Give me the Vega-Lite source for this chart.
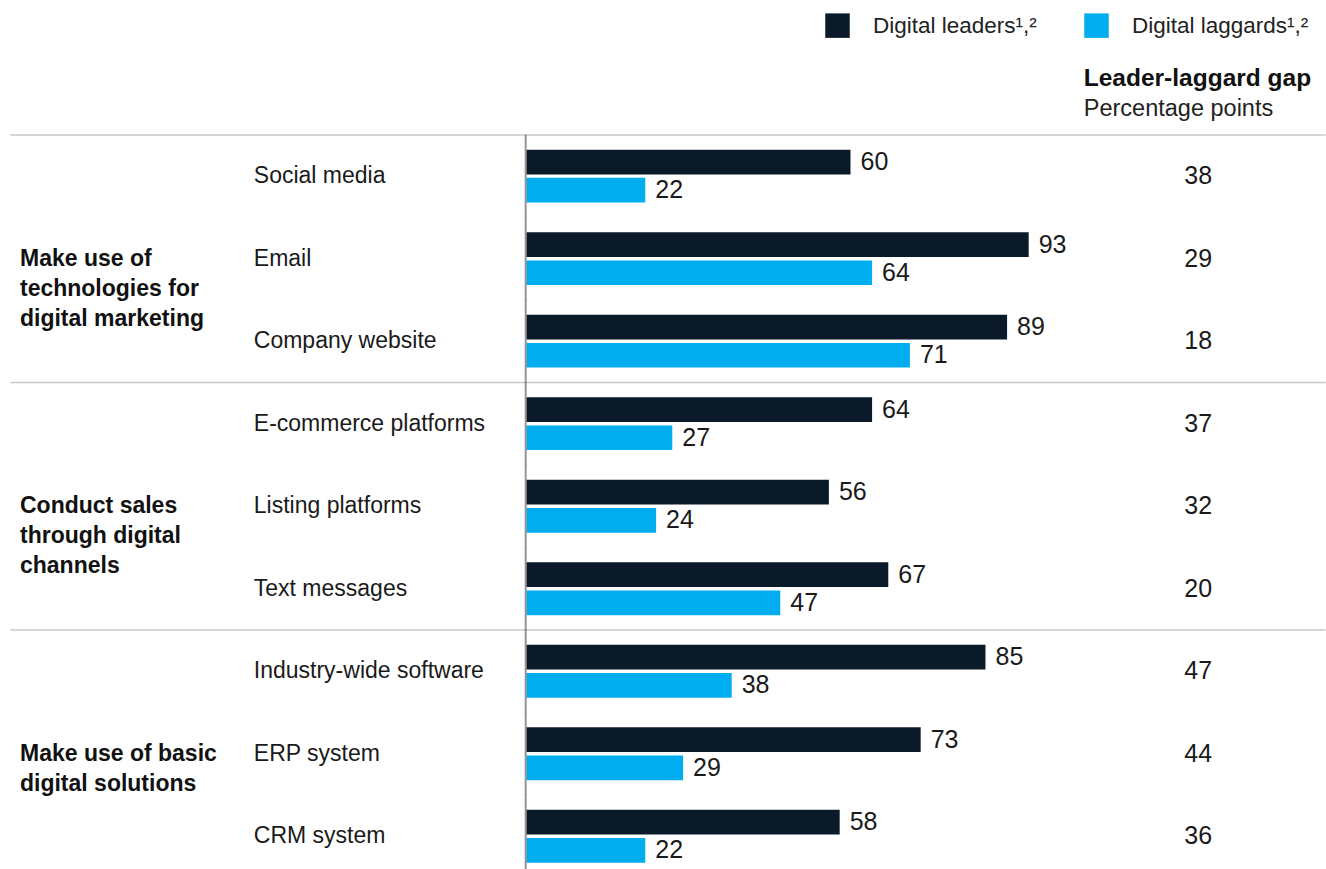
{
  "$schema": "https://vega.github.io/schema/vega-lite/v6.json",
  "width": 1326,
  "height": 734,
  "autosize": {"type": "none"},
  "padding": {"top": 135, "left": 0, "right": 0, "bottom": 0},
  "background": "white",
  "config": {
    "view": {"stroke": null},
    "font": "Liberation Sans",
    "text": {"font": "Liberation Sans", "fontSize": 23, "color": "#1a1a1a"}
  },
  "datasets": {
    "bars": [
      {"item": "Social media", "series": "Digital leaders", "value": 60},
      {"item": "Social media", "series": "Digital laggards", "value": 22},
      {"item": "Email", "series": "Digital leaders", "value": 93},
      {"item": "Email", "series": "Digital laggards", "value": 64},
      {"item": "Company website", "series": "Digital leaders", "value": 89},
      {"item": "Company website", "series": "Digital laggards", "value": 71},
      {"item": "E-commerce platforms", "series": "Digital leaders", "value": 64},
      {"item": "E-commerce platforms", "series": "Digital laggards", "value": 27},
      {"item": "Listing platforms", "series": "Digital leaders", "value": 56},
      {"item": "Listing platforms", "series": "Digital laggards", "value": 24},
      {"item": "Text messages", "series": "Digital leaders", "value": 67},
      {"item": "Text messages", "series": "Digital laggards", "value": 47},
      {"item": "Industry-wide software", "series": "Digital leaders", "value": 85},
      {"item": "Industry-wide software", "series": "Digital laggards", "value": 38},
      {"item": "ERP system", "series": "Digital leaders", "value": 73},
      {"item": "ERP system", "series": "Digital laggards", "value": 29},
      {"item": "CRM system", "series": "Digital leaders", "value": 58},
      {"item": "CRM system", "series": "Digital laggards", "value": 22}
    ],
    "items": [
      {"item": "Social media", "gap": 38},
      {"item": "Email", "gap": 29},
      {"item": "Company website", "gap": 18},
      {"item": "E-commerce platforms", "gap": 37},
      {"item": "Listing platforms", "gap": 32},
      {"item": "Text messages", "gap": 20},
      {"item": "Industry-wide software", "gap": 47},
      {"item": "ERP system", "gap": 44},
      {"item": "CRM system", "gap": 36}
    ],
    "groups": [
      {"label": "Make use of\ntechnologies for\ndigital marketing", "first": "Social media", "middle": "Email"},
      {"label": "Conduct sales\nthrough digital\nchannels", "first": "E-commerce platforms", "middle": "Listing platforms"},
      {"label": "Make use of basic\ndigital solutions", "first": "Industry-wide software", "middle": "ERP system"}
    ]
  },
  "layer": [
    {
      "data": {"name": "bars"},
      "mark": {"type": "bar"},
      "encoding": {
        "y": {
          "field": "item",
          "type": "nominal",
          "axis": null,
          "scale": {
            "domain": ["Social media", "Email", "Company website", "E-commerce platforms", "Listing platforms", "Text messages", "Industry-wide software", "ERP system", "CRM system"],
            "paddingInner": 0.36,
            "paddingOuter": 0.128,
            "align": 0.7
          }
        },
        "yOffset": {
          "field": "series",
          "type": "nominal",
          "scale": {"domain": ["Digital leaders", "Digital laggards"], "paddingInner": 0.12, "paddingOuter": 0}
        },
        "x": {
          "field": "value",
          "type": "quantitative",
          "axis": null,
          "scale": {"domain": [-97.5, 148.06], "nice": false, "zero": false}
        },
        "x2": {"datum": 0},
        "color": {
          "field": "series",
          "type": "nominal",
          "scale": {"domain": ["Digital leaders", "Digital laggards"], "range": ["#0b1a29", "#00aeef"]},
          "legend": {
            "orient": "none",
            "legendX": 825,
            "legendY": -122,
            "direction": "horizontal",
            "title": null,
            "symbolType": "square",
            "symbolSize": 600,
            "symbolStrokeWidth": 0,
            "symbolOpacity": 1,
            "labelFont": "Liberation Sans",
            "labelFontSize": 22.5,
            "labelColor": "#222222",
            "labelOffset": 23,
            "labelLimit": 400,
            "columnPadding": 47,
            "labelExpr": "datum.label + '¹,²'"
          }
        }
      }
    },
    {
      "data": {"name": "groups"},
      "mark": {"type": "rule", "color": "#c8c8c8", "strokeWidth": 1.5, "yOffset": -41.25},
      "encoding": {
        "y": {"field": "first", "type": "nominal"},
        "x": {"datum": -95.6, "type": "quantitative"},
        "x2": {"datum": 148}
      }
    },
    {
      "data": {"name": "items"},
      "mark": {"type": "tick", "orient": "vertical", "color": "#666666", "thickness": 2, "size": 83},
      "encoding": {
        "y": {"field": "item", "type": "nominal"},
        "x": {"datum": -0.15, "type": "quantitative"}
      }
    },
    {
      "data": {"name": "bars"},
      "mark": {"type": "text", "align": "left", "baseline": "middle", "dx": 10, "fontSize": 25},
      "encoding": {
        "y": {"field": "item", "type": "nominal"},
        "yOffset": {"field": "series", "type": "nominal"},
        "x": {"field": "value", "type": "quantitative"},
        "text": {"field": "value", "type": "quantitative"}
      }
    },
    {
      "data": {"name": "items"},
      "mark": {"type": "text", "align": "left", "baseline": "middle"},
      "encoding": {
        "y": {"field": "item", "type": "nominal"},
        "x": {"datum": -50.5, "type": "quantitative"},
        "text": {"field": "item", "type": "nominal"}
      }
    },
    {
      "data": {"name": "items"},
      "mark": {"type": "text", "align": "center", "baseline": "middle", "fontSize": 25},
      "encoding": {
        "y": {"field": "item", "type": "nominal"},
        "x": {"datum": 124.4, "type": "quantitative"},
        "text": {"field": "gap", "type": "quantitative"}
      }
    },
    {
      "data": {"name": "groups"},
      "mark": {"type": "text", "align": "left", "baseline": "middle", "lineBreak": "\n", "lineHeight": 30, "fontWeight": "bold", "color": "#111111"},
      "encoding": {
        "y": {"field": "middle", "type": "nominal"},
        "x": {"datum": -93.8, "type": "quantitative"},
        "text": {"field": "label", "type": "nominal"}
      }
    },
    {
      "data": {"values": [{"header": "Leader-laggard gap"}]},
      "mark": {"type": "text", "align": "left", "baseline": "alphabetic", "fontWeight": "bold", "fontSize": 24.5, "color": "#111111", "yOffset": -90.5},
      "encoding": {
        "y": {"datum": "Social media", "type": "nominal"},
        "x": {"datum": 103.2, "type": "quantitative"},
        "text": {"field": "header", "type": "nominal"}
      }
    },
    {
      "data": {"values": [{"header": "Percentage points"}]},
      "mark": {"type": "text", "align": "left", "baseline": "alphabetic", "fontSize": 23.5, "color": "#222222", "yOffset": -60.5},
      "encoding": {
        "y": {"datum": "Social media", "type": "nominal"},
        "x": {"datum": 103.2, "type": "quantitative"},
        "text": {"field": "header", "type": "nominal"}
      }
    }
  ]
}
